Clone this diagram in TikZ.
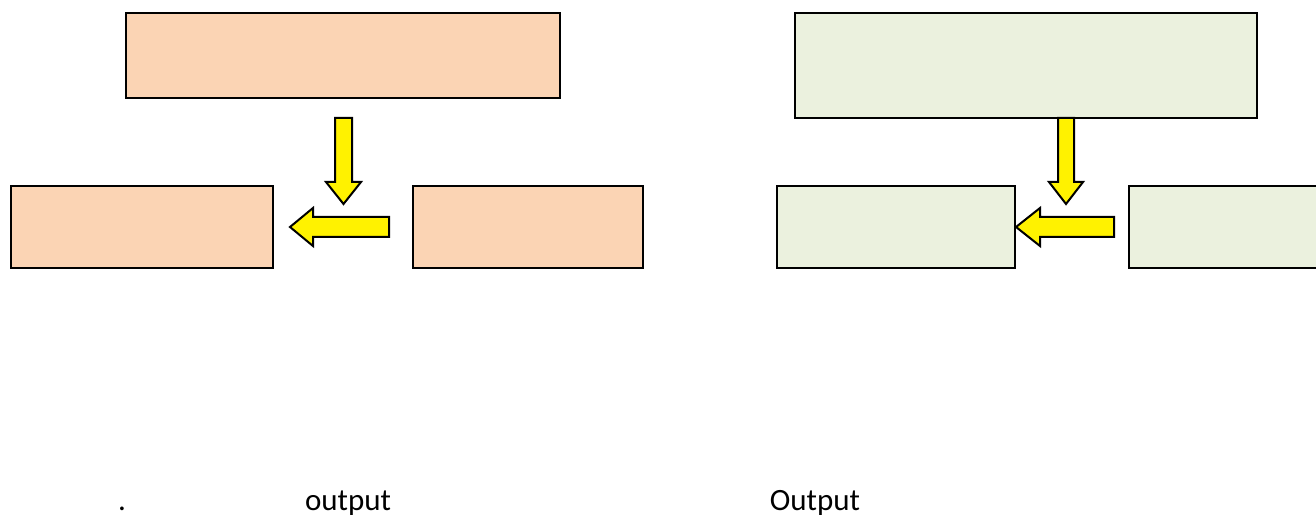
\documentclass[tikz,border=0pt]{standalone}
\usepackage{fontspec}
\setmainfont{Carlito}
\definecolor{peach}{HTML}{FBD4B4}
\definecolor{sage}{HTML}{EBF1DE}
\begin{document}
\begin{tikzpicture}[x=1pt,y=-1pt,
  box/.style={draw=black,line width=2pt,anchor=north west,inner sep=0pt},
  blockarrow/.style={draw=black,fill=yellow,line width=2pt,line join=miter},
  lbl/.style={font=\fontsize{31}{37}\selectfont,inner sep=0pt,anchor=base}]
\useasboundingbox (0,0) rectangle (1316,518);
% left group
\node[box,fill=peach,minimum width=434pt,minimum height=85pt] (tl) at (125,12) {};
\node[box,fill=peach,minimum width=262pt,minimum height=82pt] (l1) at (10,185) {};
\node[box,fill=peach,minimum width=230pt,minimum height=82pt] (l2) at (412,185) {};
% right group
\node[box,fill=sage,minimum width=462pt,minimum height=105pt] (tr) at (794,12) {};
\node[box,fill=sage,minimum width=238pt,minimum height=82pt] (r1) at (776,185) {};
\node[box,fill=sage,minimum width=230pt,minimum height=82pt] (r2) at (1128,185) {};
% yellow block arrows, left
\draw[blockarrow] (335,118) -- (352,118) -- (352,182) -- (361,182) -- (343.5,204) -- (326,182) -- (335,182) -- cycle;
\draw[blockarrow] (389,217) -- (313,217) -- (313,208) -- (290,227) -- (313,246) -- (313,237) -- (389,237) -- cycle;
% yellow block arrows, right
\draw[blockarrow] (1058,118) -- (1074,118) -- (1074,182) -- (1083,182) -- (1066,204) -- (1049,182) -- (1058,182) -- cycle;
\draw[blockarrow] (1114,217) -- (1040,217) -- (1040,208) -- (1016,227) -- (1040,246) -- (1040,237) -- (1114,237) -- cycle;
% labels
\node[lbl] (dot) at (122,510) {.};
\node[lbl] (out1) at (348,510) {output};
\node[lbl] (out2) at (815,510) {Output};
\end{tikzpicture}
\end{document}
